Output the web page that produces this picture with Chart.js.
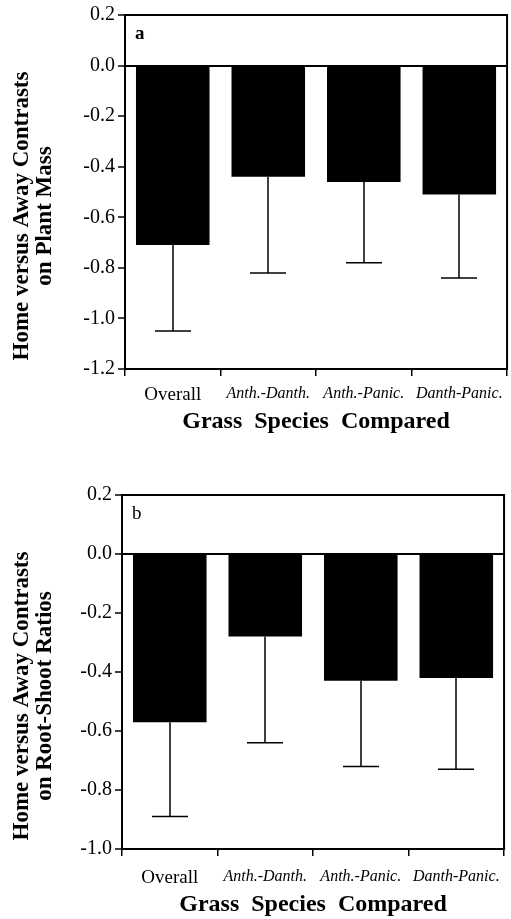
<!DOCTYPE html>
<html lang="en">
<head>
  <meta charset="UTF-8">
  <title>Home versus Away Contrasts</title>
  <script src="https://cdn.jsdelivr.net/npm/chart.js@4.4.0/dist/chart.umd.min.js"></script>
  <style>
    html, body { margin: 0; padding: 0; background: #fff; }
    .panel { position: absolute; left: 0; }
    #panelA { top: 0; }
    #panelB { top: 460px; }
  </style>
</head>
<body>
  <div class="panel" id="panelA"><canvas id="massChart" width="511" height="460"></canvas></div>
  <div class="panel" id="panelB"><canvas id="ratioChart" width="511" height="459"></canvas></div>

  <script>
    // data
    const categories = ['Overall', 'Anth.-Danth.', 'Anth.-Panic.', 'Danth-Panic.'];
    const massMeans = [-0.71, -0.44, -0.46, -0.51];
    const massLower = [-1.05, -0.82, -0.78, -0.84];
    const ratioMeans = [-0.57, -0.28, -0.43, -0.42];
    const ratioLower = [-0.89, -0.64, -0.72, -0.73];
    const massRange = [-1.2, 0.2];
    const ratioRange = [-1.0, 0.2];
    const tickStep = 0.2;

    const serif = "'Liberation Serif', 'Times New Roman', serif";

    // error bars (lower half only), frame, panel letter and the y title
    const extrasPlugin = {
      id: 'extras',
      afterDatasetsDraw(chart, args, opts) {
        const ctx = chart.ctx;
        const y = chart.scales.y;
        const meta = chart.getDatasetMeta(0);
        const values = chart.data.datasets[0].data;
        ctx.save();
        ctx.strokeStyle = '#000';
        ctx.lineWidth = 1.5;
        opts.lower.forEach((low, i) => {
          const cx = Math.round(meta.data[i].x);
          const top = y.getPixelForValue(values[i]);
          const bot = y.getPixelForValue(low);
          ctx.beginPath();
          ctx.moveTo(cx, top);
          ctx.lineTo(cx, bot);
          ctx.moveTo(cx - 18, bot);
          ctx.lineTo(cx + 18, bot);
          ctx.stroke();
        });
        const a = chart.chartArea;
        ctx.lineWidth = 2;
        ctx.strokeRect(a.left, a.top, a.right - a.left, a.bottom - a.top);

        ctx.fillStyle = '#000';
        ctx.font = opts.letterWeight + ' 19px ' + serif;
        ctx.textBaseline = 'alphabetic';
        ctx.fillText(opts.letter, a.left + 10, a.top + 24);

        // rotated two-line y title, sits a bit below the plot centre like the original
        ctx.font = 'bold 23px ' + serif;
        ctx.textAlign = 'center';
        ctx.textBaseline = 'middle';
        ctx.translate(0, (a.top + a.bottom) / 2 + 24);
        ctx.rotate(-Math.PI / 2);
        opts.yTitle.forEach((line, i) => ctx.fillText(line, 0, 22 + i * 23));
        ctx.restore();
      }
    };

    function makePanel(id, opts) {
      return new Chart(document.getElementById(id), {
        type: 'bar',
        data: {
          labels: categories,
          datasets: [{
            data: opts.means,
            backgroundColor: '#000',
            borderWidth: 0,
            categoryPercentage: 1.0,
            barPercentage: 0.77
          }]
        },
        options: {
          responsive: false,
          animation: false,
          layout: { padding: { left: 0, right: 3, top: opts.top, bottom: 0 } },
          plugins: {
            legend: { display: false },
            tooltip: { enabled: false },
            extras: { lower: opts.lower, letter: opts.letter, letterWeight: opts.letterWeight, yTitle: opts.yTitle }
          },
          scales: {
            x: {
              afterFit: s => { s.height = opts.xHeight; },
              border: { display: false },
              grid: { drawOnChartArea: false, color: '#000', lineWidth: 1.5, tickLength: 7 },
              ticks: {
                color: '#000',
                padding: opts.tickPad,
                maxRotation: 0,
                autoSkip: false,
                font: c => c.index === 0
                  ? { family: serif, size: 19, style: 'normal' }
                  : { family: serif, size: 16, style: 'italic' }
              },
              title: {
                display: true,
                text: 'Grass  Species  Compared',
                color: '#000',
                font: { family: serif, size: 24, weight: 'bold' },
                padding: { top: 0, bottom: opts.titlePad }
              }
            },
            y: {
              min: opts.range[0],
              max: opts.range[1],
              afterFit: s => { s.width = opts.yWidth; },
              border: { display: false },
              grid: {
                drawOnChartArea: true,
                color: c => Math.abs(c.tick.value) < 1e-9 ? '#000' : 'rgba(0,0,0,0)',
                lineWidth: 2,
                tickColor: '#000',
                tickWidth: 1.5,
                tickLength: 7
              },
              ticks: {
                stepSize: tickStep,
                color: '#000',
                padding: 3,
                font: { family: serif, size: 20 },
                callback: v => (Math.abs(v) < 1e-9 ? 0 : v).toFixed(1)
              }
            }
          }
        },
        plugins: [extrasPlugin]
      });
    }

    makePanel('massChart', {
      means: massMeans, lower: massLower, range: massRange,
      letter: 'a', letterWeight: 'bold',
      yTitle: ['Home versus Away Contrasts', 'on Plant Mass'],
      top: 14, xHeight: 91, yWidth: 125, tickPad: 8, titlePad: 24
    });

    makePanel('ratioChart', {
      means: ratioMeans, lower: ratioLower, range: ratioRange,
      letter: 'b', letterWeight: 'normal',
      yTitle: ['Home versus Away Contrasts', 'on Root-Shoot Ratios'],
      top: 35, xHeight: 70, yWidth: 122, tickPad: 11, titlePad: 0
    });
  </script>
</body>
</html>
